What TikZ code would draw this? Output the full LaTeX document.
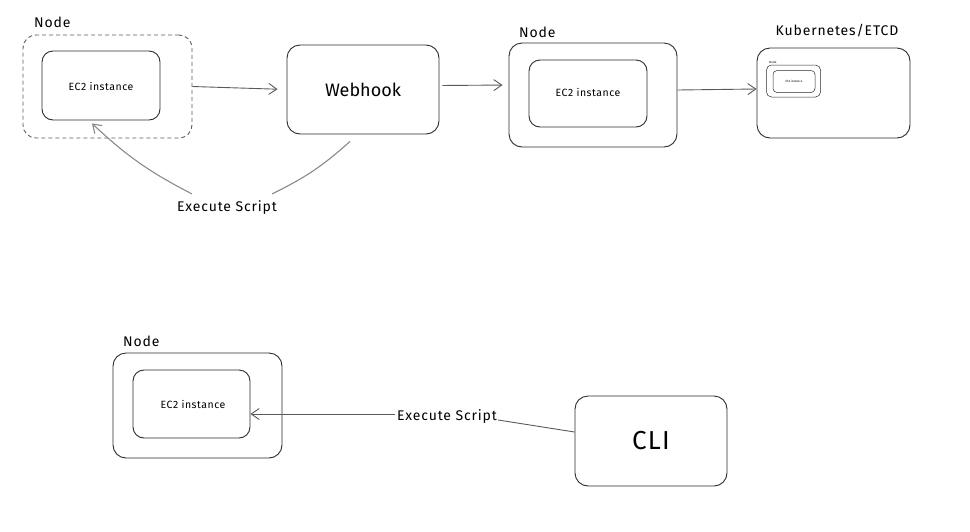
\documentclass[tikz,border=0pt]{standalone}
\usepackage{fontspec}
\setmainfont{Fira Sans}
\usetikzlibrary{arrows.meta}
\definecolor{boxc}{HTML}{2B2B2B}
\definecolor{arrc}{HTML}{5A5A5A}
\definecolor{arcc}{HTML}{8A8A8A}
\tikzset{
  box/.style={draw=boxc, line width=0.9pt, rounded corners=13pt, inner sep=0pt},
  inbox/.style={draw=boxc, line width=0.9pt, rounded corners=11pt, inner sep=0pt},
  dbox/.style={draw=arrc, line width=0.9pt, dashed, dash pattern=on 4pt off 3pt, rounded corners=13pt, inner sep=0pt},
  lbl/.style={font=\fontsize{14}{15}\selectfont\addfontfeature{LetterSpace=6}, text=black, inner sep=0pt},
  small/.style={font=\fontsize{10.5}{11}\selectfont\addfontfeature{LetterSpace=5}, text=black, inner sep=0pt},
  arr/.style={draw=arrc, line width=0.9pt, -{Straight Barb[length=8pt,width=11pt]}},
  arcline/.style={draw=arcc, line width=1.1pt},
}
\begin{document}
\begin{tikzpicture}[x=1pt,y=-1pt]
\useasboundingbox (0,0) rectangle (970,531);
% top left
\node[dbox, minimum width=169pt, minimum height=103pt] (node1) at (107.5,86.5) {};
\node[inbox, minimum width=118pt, minimum height=69pt] (ec2a) at (101,85.5) {};
\node[small] (ec2atxt) at (101,86) {EC2 instance};
\node[lbl, anchor=south west] (node1lbl) at (34,28) {Node};
% webhook
\node[box, minimum width=152pt, minimum height=89pt, font=\fontsize{18}{19}\selectfont] (webhook) at (363,89.5) {Webhook};
% node 2
\node[box, minimum width=168pt, minimum height=104pt] (node2) at (593,95) {};
\node[inbox, minimum width=118pt, minimum height=67pt] (ec2b) at (588,93.5) {};
\node[small] (ec2btxt) at (588,92) {EC2 instance};
\node[lbl, anchor=south west] (node2lbl) at (519,38) {Node};
% kubernetes
\node[box, minimum width=153pt, minimum height=90pt] (k8s) at (833.5,93) {};
\node[lbl, anchor=south] (k8slbl) at (837,37) {Kubernetes/ETCD};
\node[draw=boxc, line width=0.5pt, rounded corners=5pt, minimum width=54pt, minimum height=32pt] (snode) at (793.5,81) {};
\node[draw=boxc, line width=0.5pt, rounded corners=4pt, minimum width=42pt, minimum height=22pt, font=\fontsize{3}{3}\selectfont] (sec2) at (794,81.5) {EC2 instance};
\node[font=\fontsize{3}{3}\selectfont, anchor=south west, inner sep=0pt] (snodelbl) at (769,63.5) {Node};
% arrows top
\draw[arr, shorten >=9pt] (node1.east) -- (webhook.west);
\draw[arr, shorten >=6pt, shorten <=3pt] ([yshift=4pt]webhook.east) -- ([yshift=10pt]node2.west);
\draw[arr] ([yshift=5pt]node2.east) -- ([yshift=4pt]k8s.west);
% execute script top
\node[lbl] (exec1) at (227,208) {Execute Script};
\coordinate (wbs) at ([xshift=-13pt,yshift=-7pt]webhook.south);
\draw[arcline] (wbs) to[bend left=8] ([xshift=-5pt,yshift=7pt]exec1.north east);
\draw[arcline, -{Straight Barb[length=8pt,width=11pt]}] ([xshift=15pt,yshift=7pt]exec1.north west) to[bend left=8] ([xshift=-9pt,yshift=-3pt]ec2a.south);
% bottom node
\node[box, minimum width=169pt, minimum height=105pt] (node3) at (197.5,405.5) {};
\node[inbox, minimum width=117pt, minimum height=68pt] (ec2c) at (191.5,404) {};
\node[small] (ec2ctxt) at (193,404) {EC2 instance};
\node[lbl, anchor=south west] (node3lbl) at (123,347) {Node};
% cli
\node[box, minimum width=152pt, minimum height=90pt, font=\fontsize{26}{27}\selectfont\addfontfeature{LetterSpace=5}] (cli) at (651,441) {CLI};
% execute script bottom
\node[lbl] (exec2) at (447,417) {Execute Script};
\draw[draw=arrc, line width=0.9pt] ([yshift=9pt]cli.west) -- ([xshift=1pt,yshift=-3pt]exec2.east);
\draw[arr] ([xshift=-2pt,yshift=3pt]exec2.west) -- ([yshift=-10pt]ec2c.east);
\end{tikzpicture}
\end{document}
